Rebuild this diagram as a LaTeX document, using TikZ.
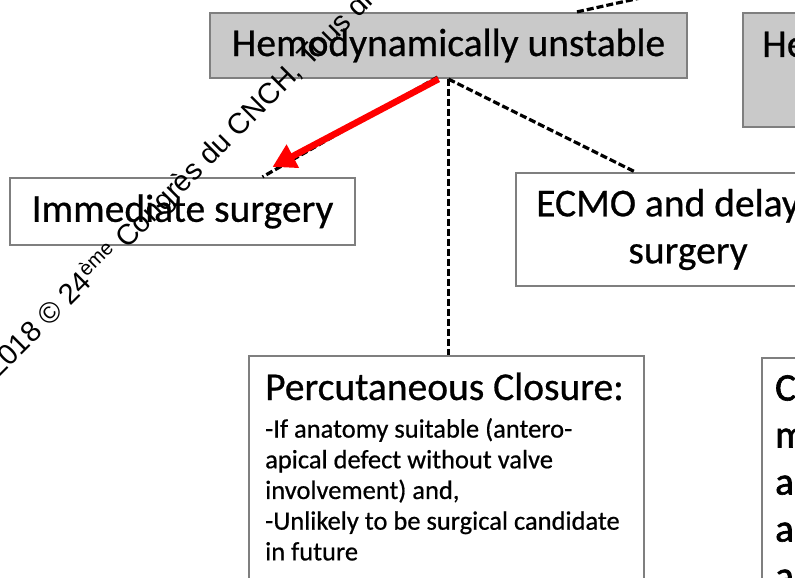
\documentclass[tikz,border=0pt]{standalone}
\usepackage{fontspec}
\setmainfont{Carlito}[FakeBold=0.6]
\newfontfamily\wmfont{Liberation Sans}
\newfontfamily\heavyfont{Carlito}[FakeBold=1.6]
\usetikzlibrary{arrows.meta}
\definecolor{boxgray}{HTML}{C9C9C9}
\definecolor{edgegray}{HTML}{7F7F7F}
\tikzset{
  box/.style={draw=edgegray, line width=2.2pt, fill=white, inner sep=0pt},
  greybox/.style={box, fill=boxgray},
  link/.style={black, line width=3.2pt, dash pattern=on 7pt off 3pt},
  big/.style={font=\fontsize{39.5}{47}\selectfont},
  small/.style={font=\fontsize{26.5}{30.7}\selectfont},
}
\begin{document}
\begin{tikzpicture}[x=1pt, y=-1pt]
    \useasboundingbox (0,0) rectangle (795,578);
    \clip (0,0) rectangle (795,578);
    \fill[white] (0,0) rectangle (795,578);
    % boxes
    \node[greybox, big, minimum width=477pt, minimum height=65pt] (unstable) at (448.5,45.5) {Hemodynamically unstable};
    \node[greybox, minimum width=300pt, minimum height=114pt] (stable) at (893,70) {};
    \node[big, anchor=base west, inner sep=0pt] (stabletxt) at (762,57) {He};
    \node[box, big, minimum width=345pt, minimum height=67pt] (immediate) at (182.5,211.5) {Immediate surgery};
    \node[box, big, align=center, minimum width=344pt, minimum height=113pt] (ecmo) at (688,229.5) {ECMO and delayed\\surgery};
    \node[box, anchor=north west, minimum width=395pt, minimum height=260pt] (closure) at (248,355) {};
    \node[big, anchor=base west, inner sep=0pt] (closuretitle) at (265,400) {Percutaneous Closure:};
    \node[small, align=left, anchor=north west, inner sep=0pt] (closuretxt) at (265,418) {-If anatomy suitable (antero-\\apical defect without valve\\involvement) and,\\-Unlikely to be surgical candidate\\in future};
    \node[box, anchor=north west, minimum width=300pt, minimum height=260pt] (other) at (761,357) {};
    \node[align=left, anchor=north west, inner sep=0pt, font=\heavyfont\fontsize{39}{47}\selectfont] (othertxt) at (775,375) {C\\m\\a\\a\\a};
    % connectors
    \coordinate (abovestub) at (663,-7);
    \draw[link] ([xshift=128.5pt]unstable.north) -- (abovestub);
    \draw[link] ([shift={(-11pt,2pt)}]unstable.south) -- ([xshift=80pt]immediate.north);
    \draw[link] (unstable.south) -- (unstable.south |- closure.north);
    \draw[link] (unstable.south) -- ([xshift=-53pt]ecmo.north);
    \draw[red, line width=6.5pt, -{Triangle[length=23pt, width=25pt]}] ([xshift=-10pt]unstable.south) -- ([xshift=90pt, yshift=10pt]immediate.north);
    % watermark
    \node[anchor=base west, rotate=45, inner sep=0pt, font=\wmfont\fontsize{29}{31}\selectfont] (mark) at (-2,379) {2018 © 24\textsuperscript{ème} Congrès du CNCH, Tous droits};
\end{tikzpicture}
\end{document}
